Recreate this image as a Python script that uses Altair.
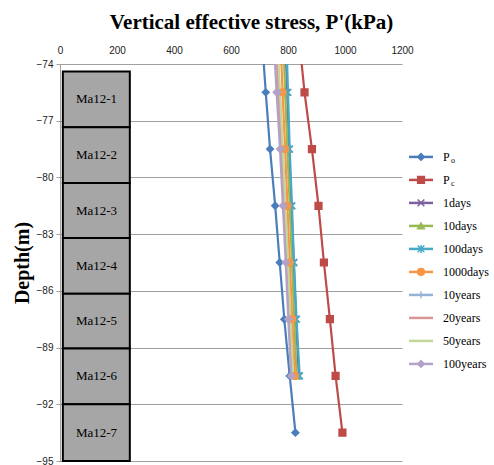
import altair as alt
import pandas as pd

# ---------------- data ----------------
series_names = ["Po", "Pc", "1days", "10days", "100days", "1000days",
                "10years", "20years", "50years", "100years"]
series_colors = ["#4A7EBB", "#BE4B48", "#7D5FA0", "#98B954", "#46AAC5", "#F79646",
                 "#95B3D7", "#D99694", "#C3D69B", "#B3A2C7"]

depth_full = [-72.5, -75.5, -78.5, -81.5, -84.5, -87.5, -90.5, -93.5]
depth_short = [-72.5, -75.5, -78.5, -81.5, -84.5, -87.5, -90.5]

po = [708, 722, 737, 755, 771, 787, 806, 826]
pc = [838, 858, 884, 907, 926, 947, 967, 991]
d1 = [790, 797, 804, 812, 820, 828, 838]
d10 = [783, 790, 798, 806, 814, 822, 830]
d100 = [794, 800, 806, 814, 821, 830, 841]
d1000 = [773, 781, 790, 798, 806, 815, 824]
y10 = [758, 768, 778, 788, 797, 806, 816]
y20 = [756, 766, 776, 786, 795, 804, 814]
y50 = [762, 772, 782, 791, 800, 809, 818]
y100 = [749, 760, 772, 782, 792, 801, 811]

layer_names = ["Ma12-1", "Ma12-2", "Ma12-3", "Ma12-4", "Ma12-5", "Ma12-6", "Ma12-7"]
layer_top = [-74.4, -77.35, -80.3, -83.2, -86.15, -89.05, -92.0]
layer_bottom = [-77.35, -80.3, -83.2, -86.15, -89.05, -92.0, -95.0]

legend_main = ["P", "P", "1days", "10days", "100days", "1000days",
               "10years", "20years", "50years", "100years"]
legend_sub = ["o", "c", "", "", "", "", "", "", "", ""]

y_ticks = [-74, -77, -80, -83, -86, -89, -92, -95]
x_ticks = [0, 200, 400, 600, 800, 1000, 1200]

# ---------------- build tables ----------------
values = [po, pc, d1, d10, d100, d1000, y10, y20, y50, y100]
rows = []
for i, (name, vals) in enumerate(zip(series_names, values)):
    depths = depth_full if len(vals) == len(depth_full) else depth_short
    for d, v in zip(depths, vals):
        rows.append({"series": name, "order": i, "depth": d, "stress": v})
df = pd.DataFrame(rows)

layers = pd.DataFrame({"name": layer_names, "top": layer_top, "bottom": layer_bottom})
layers["mid"] = (layers["top"] + layers["bottom"]) / 2

leg = pd.DataFrame({"series": series_names, "idx": list(range(len(series_names))),
                    "main": legend_main, "sub": legend_sub})

X_PATH = "M-1,-1L1,1M-1,1L1,-1"
STAR_PATH = "M-1,-1L1,1M-1,1L1,-1M0,-1.2L0,1.2"
PLUS_PATH = "M-1,0L1,0M0,-1L0,1"
DASH_PATH = "M-0.01,0L0.01,0"
shapes = ["diamond", "square", X_PATH, "triangle-up", STAR_PATH, "circle",
          PLUS_PATH, DASH_PATH, DASH_PATH, "diamond"]

color_scale = alt.Scale(domain=series_names, range=series_colors)
shape_scale = alt.Scale(domain=series_names, range=shapes)

x_enc = alt.X("stress:Q", title=None,
              scale=alt.Scale(domain=[0, 1200], nice=False),
              axis=alt.Axis(orient="top", values=x_ticks, grid=False, domain=False,
                            ticks=False, labelPadding=9, format="d", labelFlush=False))
y_enc = alt.Y("depth:Q", title="Depth(m)",
              scale=alt.Scale(domain=[-95, -74], nice=False, zero=False),
              axis=alt.Axis(values=y_ticks, grid=True, tickSize=4, labelPadding=3,
                            titlePadding=4, labelFlush=False))

blocks = alt.Chart(layers).mark_rect(fill="#A6A6A6", stroke="black", strokeWidth=2).encode(
    x=alt.datum(10), x2=alt.datum(245),
    y=alt.Y("top:Q", scale=alt.Scale(domain=[-95, -74], nice=False)), y2="bottom:Q")

block_text = alt.Chart(layers).mark_text(font="Liberation Serif", fontSize=13,
                                         color="black").encode(
    x=alt.datum(128), y="mid:Q", text="name:N")

lines = alt.Chart(df).mark_line(strokeWidth=2.2, clip=True).encode(
    x=x_enc, y=y_enc,
    color=alt.Color("series:N", scale=color_scale, legend=None),
    detail="series:N", order="depth:Q")

points = alt.Chart(df).mark_point(filled=True, size=45, strokeWidth=1.5, opacity=1,
                                  clip=True).encode(
    x="stress:Q", y="depth:Q",
    color=alt.Color("series:N", scale=color_scale, legend=None),
    stroke=alt.Stroke("series:N", scale=color_scale, legend=None),
    shape=alt.Shape("series:N", scale=shape_scale, legend=None),
    order="order:Q")

main = alt.layer(blocks, block_text, lines, points).properties(width=342, height=397)

leg_y = alt.Y("idx:Q", axis=None,
              scale=alt.Scale(domain=[-4.04, 13.22], nice=False, zero=False, reverse=True))
leg_rule = alt.Chart(leg).mark_rule(strokeWidth=2.5).encode(
    x=alt.value(7), x2=alt.value(31), y=leg_y,
    color=alt.Color("series:N", scale=color_scale, legend=None))
leg_pt = alt.Chart(leg).mark_point(filled=True, size=45, strokeWidth=1.5, opacity=1).encode(
    x=alt.value(19), y=leg_y,
    color=alt.Color("series:N", scale=color_scale, legend=None),
    stroke=alt.Stroke("series:N", scale=color_scale, legend=None),
    shape=alt.Shape("series:N", scale=shape_scale, legend=None))
leg_txt = alt.Chart(leg).mark_text(align="left", font="Liberation Serif", fontSize=12,
                                   color="black").encode(
    x=alt.value(41), y=leg_y, text="main:N")
leg_sub = alt.Chart(leg).mark_text(align="left", font="Liberation Serif", fontSize=8,
                                   color="black", dy=4).encode(
    x=alt.value(49), y=leg_y, text="sub:N")
legend = alt.layer(leg_rule, leg_pt, leg_txt, leg_sub).properties(width=89, height=397)

chart = alt.hconcat(main, legend, spacing=0, bounds="flush").properties(
    title=alt.TitleParams("Vertical effective  stress, P'(kPa)", font="Liberation Serif",
                          fontSize=21, fontWeight="bold", anchor="middle", offset=12,
                          color="black")
).configure(
    padding={"left": 12, "top": 12, "right": 0, "bottom": 0}
).configure_view(stroke=None).configure_axis(
    labelFont="Liberation Sans", labelFontSize=10, labelColor="#222",
    titleFont="Liberation Serif", titleFontSize=20, titleFontWeight="bold",
    titleColor="black", gridColor="#A0A0A0", gridWidth=1.2,
    domainColor="#A0A0A0", tickColor="#A0A0A0"
)

chart.save("out.html", embed_options={"renderer": "svg", "actions": False})
